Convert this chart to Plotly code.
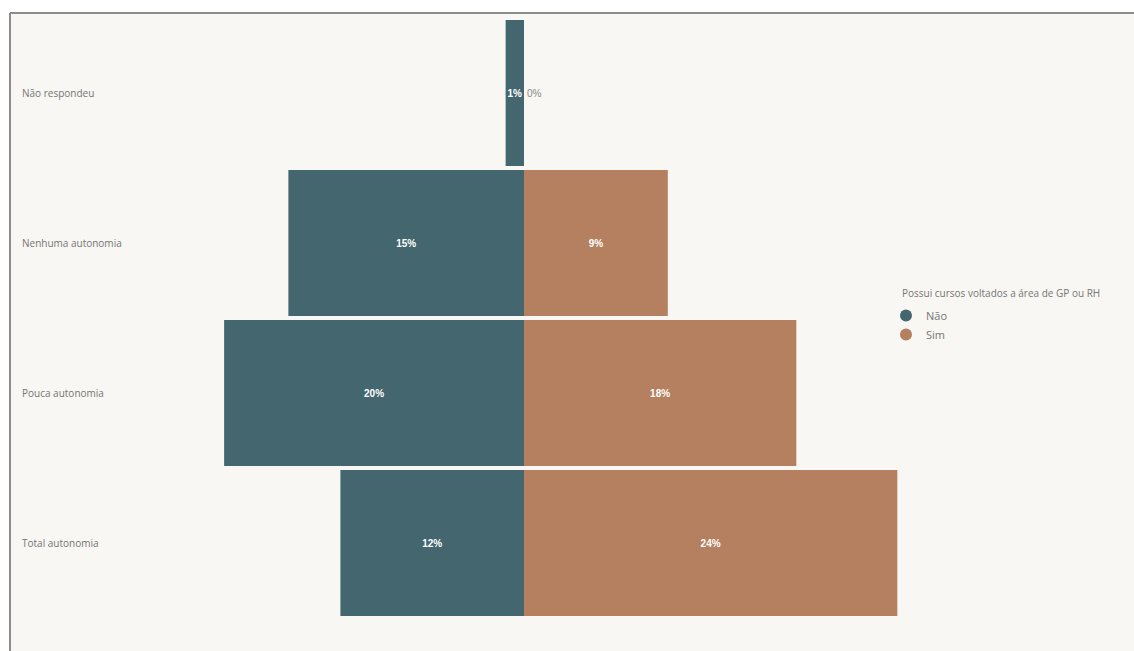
import plotly.graph_objects as go

categories = ["Não respondeu", "Nenhuma autonomia", "Pouca autonomia", "Total autonomia"]
nao_values = [1.2, 15.4, 19.6, 12.0]
sim_values = [0.0, 9.4, 17.8, 24.4]
legend_title = "Possui cursos voltados a área de GP ou RH"
series_names = ["Não", "Sim"]

C_NAO = "#44666F"
C_SIM = "#B5805F"
PANEL = "#F8F7F3"
LABEL = "#757575"
FONT = "Open Sans, Liberation Sans, sans-serif"

fig = go.Figure()

fig.add_trace(go.Bar(
    y=categories, x=nao_values, base=[-v for v in nao_values], orientation="h",
    marker=dict(color=C_NAO, line=dict(width=0)),
    texttemplate="%{x:.0f}%", textposition="inside", insidetextanchor="middle",
    constraintext="none", textangle=0,
    insidetextfont=dict(color="white", size=10, family="Liberation Sans, Arial, sans-serif", weight="bold"),
    showlegend=False, hoverinfo="skip", name=series_names[0],
))
sim_pos = ["outside" if v < 1 else "inside" for v in sim_values]
fig.add_trace(go.Bar(
    y=categories, x=sim_values, orientation="h",
    marker=dict(color=C_SIM, line=dict(width=0)),
    texttemplate="%{x:.0f}%", textposition=sim_pos, insidetextanchor="middle",
    constraintext="none", cliponaxis=False, textangle=0,
    insidetextfont=dict(color="white", size=10, family="Liberation Sans, Arial, sans-serif", weight="bold"),
    outsidetextfont=dict(color="#8a8a8a", size=10, family="Liberation Sans, Arial, sans-serif"),
    showlegend=False, hoverinfo="skip", name=series_names[1],
))

# legend entries with circular markers
for name, col in zip(series_names, [C_NAO, C_SIM]):
    fig.add_trace(go.Scatter(x=[None], y=[None], mode="markers", name=name,
                             marker=dict(color=col, size=7, symbol="circle")))

for cat in categories:
    fig.add_annotation(x=0.0089, xref="paper", y=cat, yref="y", text=cat,
                       showarrow=False, xanchor="left", yanchor="middle",
                       font=dict(size=10, color=LABEL, family=FONT))

W, H = 1134, 651
ml, mr, mt, mb = 10, 0, 18, 33
pw, ph = W - ml - mr, H - mt - mb

# legend title
fig.add_annotation(x=(900 - ml) / pw, xref="paper", y=1 - (293 - mt) / ph, yref="paper",
                   text=legend_title, showarrow=False, xanchor="left", yanchor="middle",
                   font=dict(size=10, color=LABEL, family=FONT))

# panel background and border
fig.add_shape(type="rect", xref="paper", yref="paper", x0=0, x1=1.01,
              y0=-mb / ph - 0.01, y1=1 + 5 / ph, fillcolor=PANEL, line=dict(width=0), layer="below")
fig.add_shape(type="line", xref="paper", yref="paper", x0=0, x1=1.01,
              y0=1 + 5 / ph, y1=1 + 5 / ph, line=dict(color="#8c8c8c", width=2))
fig.add_shape(type="line", xref="paper", yref="paper", x0=0, x1=0,
              y0=-mb / ph - 0.01, y1=1 + 5 / ph, line=dict(color="#8c8c8c", width=2))

fig.update_layout(
    width=W, height=H,
    margin=dict(l=ml, r=mr, t=mt, b=mb),
    paper_bgcolor="white", plot_bgcolor=PANEL,
    barmode="overlay", bargap=0.027,
    font=dict(family=FONT, size=10, color=LABEL),
    xaxis=dict(visible=False, range=[-514 / 15.3, 610 / 15.3], fixedrange=True),
    yaxis=dict(visible=False, categoryorder="array", categoryarray=categories,
               autorange="reversed", fixedrange=True),
    legend=dict(x=(886 - ml) / pw, xanchor="left", y=1 - (301 - mt) / ph, yanchor="top",
                bgcolor="rgba(0,0,0,0)", itemwidth=30, tracegroupgap=0,
                font=dict(size=11, color=LABEL, family=FONT), itemsizing="constant"),
    showlegend=True,
)

fig.write_html("out.html")
